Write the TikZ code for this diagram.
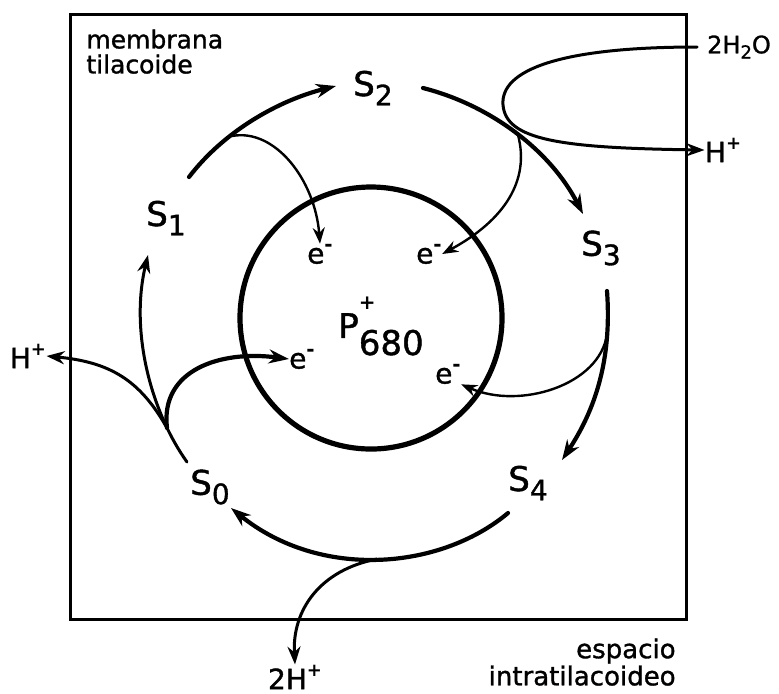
\documentclass[tikz,border=0pt]{standalone}
\usepackage{fontspec}
\setmainfont{DejaVu Sans}[UprightFeatures={FakeBold=1.2}]
\usepackage{tikz}
\usetikzlibrary{arrows.meta}

\newcommand{\Sst}[1]{S\raisebox{-0.5ex}{\fontsize{14}{14}\selectfont #1}}
\newcommand{\elec}{e\raisebox{0.8ex}{\fontsize{10}{10}\selectfont\bfseries -}}
\newcommand{\hp}{\raisebox{0.85ex}{\fontsize{9}{9}\selectfont\bfseries +}}

\begin{document}
\begin{tikzpicture}[x=0.5pt,y=-0.5pt,line cap=round,
  big/.style={-{Stealth[length=10pt,width=7pt]},line width=2.1pt},
  mid/.style={-{Stealth[length=9pt,width=6.5pt]},line width=1.5pt},
  small/.style={-{Stealth[length=8pt,width=6pt]},line width=1.2pt},
  lbl/.style={inner sep=0pt,font=\fontsize{17}{20}\selectfont},
  elab/.style={inner sep=0pt,font=\fontsize{14}{16}\selectfont}]
  \useasboundingbox (0,0) rectangle (779,693);
  % frame and P680
  \draw[line width=1.5pt] (70,14) rectangle (686,619);
  \node[circle,draw,line width=2.6pt,minimum size=131pt,inner sep=0pt] (ring) at (371,318) {};
  \node[lbl] (p680) at (381,326) {P\rlap{\raisebox{0.85em}{\fontsize{10}{10}\selectfont\bfseries +}}\raisebox{-0.5em}{680}};
  % states
  \node[lbl] (s0) at (210,487) {\Sst{0}};
  \node[lbl] (s1) at (166,218) {\Sst{1}};
  \node[lbl] (s2) at (373,88) {\Sst{2}};
  \node[lbl] (s3) at (601,248) {\Sst{3}};
  \node[lbl] (s4) at (528,483) {\Sst{4}};
  % electrons and protons
  \node[elab] (e1) at (320,254) {\elec};
  \node[elab] (e2) at (429,254) {\elec};
  \node[elab] (e3) at (302,359) {\elec};
  \node[elab] (e4) at (448,374) {\elec};
  \node[elab,font=\fontsize{12}{14}\selectfont] (h2o) at (739,47) {2H\raisebox{-0.4ex}{\fontsize{9}{9}\selectfont 2}O};
  \node[elab] (hr) at (723,150) {H\hp};
  \node[elab] (hl) at (28,356) {H\hp};
  \node[elab] (hh) at (295,677) {2H\hp};
  \node[inner sep=0pt,anchor=north west,align=left,font=\fontsize{12.5}{12.5}\selectfont] (memb) at (86,29) {membrana\\tilacoide};
  \node[inner sep=0pt,anchor=north east,align=right,font=\fontsize{13}{11.5}\selectfont] (esp) at (676,638) {espacio\\intratilacoideo};
  % branch points
  \coordinate (b1) at (232,136);
  \coordinate (b2) at (518,135);
  \coordinate (b3) at (607,334);
  \coordinate (b4) at (377,559);
  \coordinate (b0) at (167,428);
  \coordinate (w0) at (697,47);
  % cycle
  \draw[big] (189,177) .. controls (225,130) and (280,100) .. (336,86);
  \draw[big] (423,88) .. controls (490,105) and (550,150) .. (583,214);
  \draw[big] (607,291) .. controls (612,360) and (595,410) .. (562,460);
  \draw[big] (508,513) .. controls (440,570) and (320,580) .. (231,508);
  \draw[mid] (187,462) .. controls (150,410) and (130,330) .. (148,255);
  % side products
  \draw[small] (b1) .. controls (275,128) and (315,180) .. (e1.north);
  \draw[mid] (w0) .. controls (560,47) and (500,70) .. (503,105)
    .. controls (506,140) and (560,148) .. (hr.west);
  \draw[small] (b2) .. controls (530,180) and (505,220) .. (e2.east);
  \draw[small] (b3) .. controls (600,385) and (520,410) .. (e4.south east);
  \draw[mid] (b4) .. controls (320,570) and (292,610) .. (hh.north);
  \draw[mid] (b0) .. controls (140,380) and (110,362) .. (hl.east);
  \draw[big] (b0) .. controls (160,370) and (220,350) .. (e3.west);
\end{tikzpicture}
\end{document}
